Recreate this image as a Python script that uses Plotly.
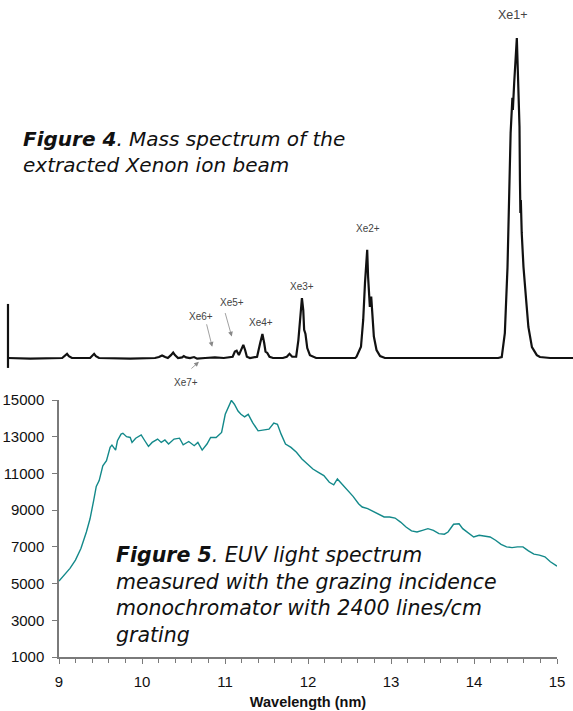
import plotly.graph_objects as go

# ---------- Figure 4: mass spectrum (time of flight, arbitrary units) ----------
tof = [0.00, 0.50, 1.22, 1.28, 1.33, 1.37, 1.44, 1.85, 1.89, 1.94, 1.98, 2.05, 2.75, 3.31,
       3.40, 3.47, 3.54, 3.60, 3.67, 3.72, 3.76, 3.83, 3.92, 3.96, 4.01, 4.10, 4.19, 4.26,
       4.44, 4.66, 4.86, 5.06, 5.11, 5.15, 5.20, 5.26, 5.30, 5.34, 5.38, 5.45, 5.61, 5.68,
       5.73, 5.77, 5.80, 5.84, 5.89, 5.97, 6.19, 6.28, 6.34, 6.40, 6.49, 6.54, 6.58, 6.62,
       6.65, 6.67, 6.70, 6.71, 6.74, 6.80, 6.86, 6.94, 7.82, 7.85, 7.95, 8.00, 8.04, 8.09,
       8.11, 8.15, 8.18, 8.20, 8.24, 8.30, 8.38, 8.49, 9.95, 11.04, 11.12, 11.19, 11.25,
       11.29, 11.31, 11.32, 11.36, 11.37, 11.40, 11.46, 11.48, 11.52, 11.53, 11.54, 11.55,
       11.57, 11.61, 11.67, 11.72, 11.80, 11.91, 11.98, 12.21, 12.73]
signal = [0, -0.2, 0, 0.6, 1.3, 0.6, 0, 0, 0.6, 1.3, 0.6, 0, -0.2, 0,
          0.3, 0.8, 0.3, 0, 0.9, 1.7, 0.9, 0, 0.2, 0.6, 0.2, 0, 0.3, -0.2,
          0, 0.2, 0, 0.4, 2.0, 2.3, 0.9, 3.1, 4.1, 2.5, 0.4, 0, 0.4, 4.7,
          7.5, 4.7, 2.0, 1.6, 0.4, 0, 0, 0.4, 1.3, 0.4, 0.4, 5.6, 12.9, 18.7,
          15.0, 8.8, 7.5, 5.6, 3.1, 0.9, 0.4, 0, 0, 0.4, 3.5, 11.9, 23.4, 33.8,
          25.4, 16.0, 19.2, 14.1, 6.7, 2.5, 0.6, 0, -0.1, 0, 0.3, 7.8, 28.4,
          52.5, 57.2, 70.3, 81.3, 77.5, 85.9, 100.0, 90.9, 72.2, 55.6, 45.3, 49.4,
          39.1, 28.4, 18.1, 9.7, 3.4, 0.9, 0.3, 0, 0]
trigger_t = [0.0, 0.0]
trigger_i = [-3.1, 16.9]

ion_labels = ["Xe1+", "Xe2+", "Xe3+", "Xe4+", "Xe5+", "Xe6+", "Xe7+"]
ion_label_t = [11.37, 8.11, 6.62, 5.70, 5.05, 4.35, 4.01]
ion_label_i = [107.2, 40.6, 22.5, 11.25, 17.2, 13.1, -7.8]
arrow_t = [4.30, 4.60, 5.04]     # Xe7+, Xe6+, Xe5+ pointers
arrow_i = [-1.2, 3.5, 6.7]

# ---------- Figure 5: EUV spectrum ----------
wavelength = [9.000, 9.066, 9.132, 9.198, 9.264, 9.330, 9.374, 9.418, 9.449, 9.484, 9.528,
              9.572, 9.616, 9.638, 9.682, 9.704, 9.748, 9.770, 9.814, 9.858, 9.880, 9.924,
              9.990, 10.034, 10.078, 10.122, 10.188, 10.232, 10.276, 10.320, 10.386, 10.452,
              10.496, 10.563, 10.629, 10.673, 10.725, 10.783, 10.827, 10.893, 10.959, 11.003,
              11.047, 11.077, 11.113, 11.157, 11.192, 11.236, 11.280, 11.333, 11.399, 11.465,
              11.530, 11.588, 11.632, 11.676, 11.729, 11.795, 11.861, 11.927, 11.993, 12.059,
              12.125, 12.191, 12.257, 12.310, 12.354, 12.411, 12.477, 12.543, 12.609, 12.653,
              12.719, 12.785, 12.851, 12.917, 12.983, 13.049, 13.115, 13.181, 13.247, 13.313,
              13.379, 13.445, 13.511, 13.577, 13.643, 13.687, 13.754, 13.820, 13.864, 13.930,
              13.996, 14.062, 14.128, 14.194, 14.260, 14.326, 14.392, 14.458, 14.524, 14.590,
              14.656, 14.722, 14.788, 14.854, 14.920, 15.000]
intensity = [5140, 5460, 5830, 6280, 6910, 7810, 8530, 9530, 10290, 10610, 11420,
             11700, 12420, 12540, 12270, 12780, 13140, 13190, 13000, 12960, 12690, 12920,
             13100, 12780, 12470, 12690, 12870, 12690, 12820, 12600, 12870, 12920,
             12560, 12740, 12510, 12690, 12270, 12600, 12960, 12960, 13230, 14220,
             14680, 14980, 14770, 14400, 14220, 14080, 14220, 13770, 13320, 13360,
             13410, 13740, 13680, 13140, 12600, 12420, 12150, 11790, 11510, 11240,
             11060, 10880, 10520, 10380, 10700, 10430, 10070, 9750, 9350, 9170,
             9080, 8930, 8810, 8630, 8630, 8570, 8350, 8080, 7870, 7810,
             7900, 7990, 7900, 7720, 7690, 7810, 8230, 8260, 7990, 7760,
             7540, 7630, 7600, 7540, 7360, 7140, 7000, 6960, 7000, 7000,
             6780, 6600, 6550, 6460, 6190, 5950]

x_ticks = [9, 10, 11, 12, 13, 14, 15]
y_ticks = [1000, 3000, 5000, 7000, 9000, 11000, 13000, 15000]
y_tick_text = ["1000", "3000", "5000", "7000", "9000", "11000", "13000", "15000"]

W, H = 573, 711
axis_grey = "#7a7a7a"

fig = go.Figure()

fig.add_trace(go.Scatter(x=wavelength, y=intensity, mode="lines",
                         line=dict(color="#13898a", width=1.4),
                         xaxis="x", yaxis="y", showlegend=False))
fig.add_trace(go.Scatter(x=tof, y=signal, mode="lines",
                         line=dict(color="#111111", width=2.2),
                         xaxis="x2", yaxis="y2", showlegend=False))
fig.add_trace(go.Scatter(x=trigger_t, y=trigger_i, mode="lines",
                         line=dict(color="#111111", width=2.2),
                         xaxis="x2", yaxis="y2", showlegend=False))

fig.update_layout(
    width=W, height=H,
    margin=dict(l=0, r=0, t=0, b=0, autoexpand=False),
    showlegend=False,
    paper_bgcolor="white", plot_bgcolor="rgba(0,0,0,0)",
    font=dict(family="Liberation Sans, Arial, sans-serif", color="#111111"),
    xaxis=dict(domain=[59 / W, 557 / W], range=[9, 15], anchor="y", automargin=False,
               tickvals=x_ticks, ticks="outside", ticklen=5, tickwidth=1.2,
               tickcolor=axis_grey, showline=True, linecolor=axis_grey, linewidth=1.5,
               showgrid=False, zeroline=False, tickfont=dict(size=15),
               ticklabelstandoff=5,
               minor=dict(dtick=0.2, tick0=9, ticks="outside", ticklen=4,
                          tickwidth=1, tickcolor=axis_grey, showgrid=False),
               title=dict(text="<b>Wavelength (nm)</b>", font=dict(size=14.5), standoff=8)),
    xaxis3=dict(domain=[59 / W, 557 / W], range=[9, 15], anchor="y", overlaying="x",
                automargin=False,
                tickvals=x_ticks, ticks="inside", ticklen=5, tickwidth=1.2,
                tickcolor=axis_grey, showticklabels=False, showline=False,
                showgrid=False, zeroline=False),
    yaxis=dict(domain=[1 - 657 / H, 1 - 400 / H], range=[1000, 15000], anchor="x",
               automargin=False,
               tickvals=y_ticks, ticktext=y_tick_text, ticks="outside", ticklen=5,
               tickwidth=1.2,
               tickcolor=axis_grey, showline=True, linecolor=axis_grey, linewidth=1.5,
               showgrid=False, zeroline=False, tickfont=dict(size=15),
               ticklabelstandoff=5),
    xaxis2=dict(domain=[0, 1], range=[-0.18, 12.725], anchor="y2", visible=False,
                automargin=False),
    yaxis2=dict(domain=[1 - 390 / H, 1], range=[-10, 111.9], anchor="x2", visible=False,
                automargin=False),
)

# ion labels
for lab, t, i in zip(ion_labels, ion_label_t, ion_label_i):
    fig.add_annotation(x=t, y=i, xref="x2", yref="y2", text=lab, showarrow=False,
                       font=dict(size=12.5 if lab == "Xe1+" else 10, color="#444444"))

# pointer arrows
arrow_offsets = [(-9, 8), (-6, -24), (-7, -25)]
for t, i, (ax, ay) in zip(arrow_t, arrow_i, arrow_offsets):
    fig.add_annotation(x=t, y=i, xref="x2", yref="y2", text="", showarrow=True,
                       ax=ax, ay=ay, arrowhead=2, arrowsize=1.2, arrowwidth=0.8,
                       arrowcolor="#888888")

cap_font = dict(family="DejaVu Sans, Verdana, sans-serif", size=20, color="#111111")
fig.add_annotation(x=21 / W, y=1 - 125 / H, xref="paper", yref="paper",
                   xanchor="left", yanchor="top", align="left", showarrow=False,
                   text="<b><i>Figure 4</i></b><i>. Mass spectrum of the<br>extracted Xenon ion beam</i>",
                   font=cap_font)
fig.add_annotation(x=114 / W, y=1 - 541 / H, xref="paper", yref="paper",
                   xanchor="left", yanchor="top", align="left", showarrow=False,
                   text="<b><i>Figure 5</i></b><i>. EUV light spectrum<br>measured with the grazing incidence"
                        "<br>monochromator with 2400 lines/cm<br>grating</i>",
                   font=dict(cap_font, size=20.5))

fig.write_html("out.html", config={"displayModeBar": False},
               post_script="document.body.style.margin='0';document.body.style.overflow='hidden';")
